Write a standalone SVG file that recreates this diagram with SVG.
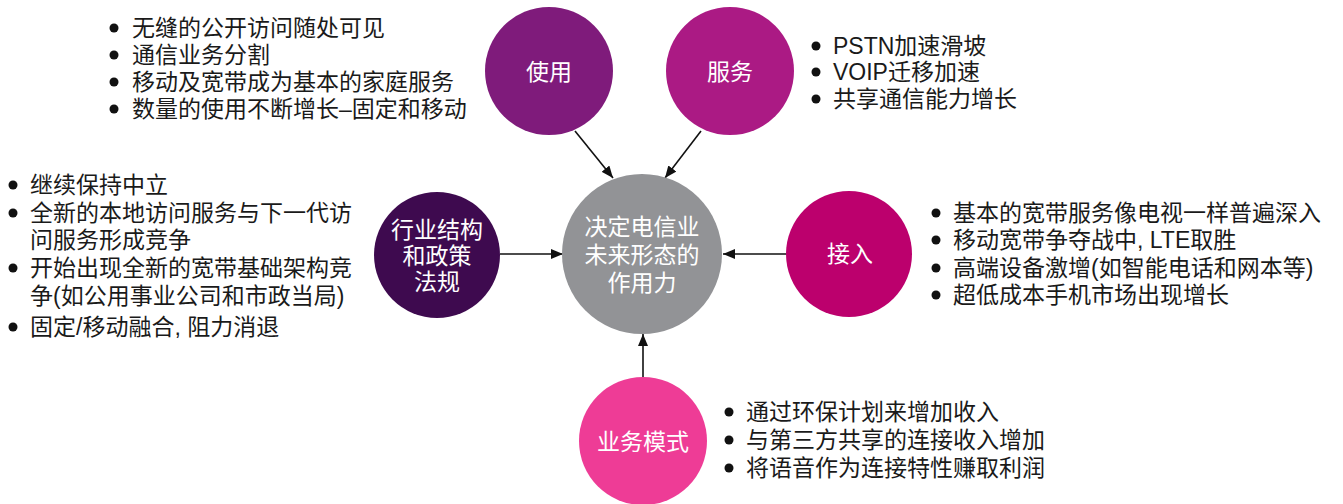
<svg xmlns="http://www.w3.org/2000/svg" width="1343" height="504" viewBox="0 0 1343 504">
<style>
text{font-family:"Liberation Sans","Noto Sans CJK SC",sans-serif;font-size:23px}
.b{fill:#1a1a1a}
.w{fill:#ffffff;text-anchor:middle}
.dot{fill:#111}
.c{stroke:#111;stroke-width:1.6;fill:none;marker-end:url(#ah)}
</style>
<defs>
<marker id="ah" viewBox="0 0 12 10" refX="12" refY="5" markerWidth="12" markerHeight="10" markerUnits="userSpaceOnUse" orient="auto">
<path d="M0,0 L12,5 L0,10 Z" fill="#111"/>
</marker>
</defs>
<rect width="1343" height="504" fill="#fff"/>
<g id="connectors">
<line class="c" x1="575" y1="131" x2="613" y2="178"/>
<line class="c" x1="701" y1="131" x2="665" y2="178"/>
<line class="c" x1="500" y1="254" x2="563" y2="254"/>
<line class="c" x1="786" y1="254" x2="723" y2="254"/>
<line class="c" x1="643" y1="377" x2="643" y2="334"/>
</g>
<g id="center">
<circle cx="642" cy="254" r="80" fill="#929396"/>
<text class="w" x="642" y="235">决定电信业</text>
<text class="w" x="642" y="263">未来形态的</text>
<text class="w" x="642" y="291">作用力</text>
</g>
<g id="usage">
<circle cx="549" cy="71" r="64" fill="#7F1B7B"/>
<text class="w" x="549" y="80">使用</text>
</g>
<g id="service">
<circle cx="730" cy="71" r="64" fill="#AB1A84"/>
<text class="w" x="730" y="80">服务</text>
</g>
<g id="policy">
<circle cx="437" cy="255" r="63" fill="#3E0A4F"/>
<text class="w" x="437" y="238">行业结构</text>
<text class="w" x="437" y="264">和政策</text>
<text class="w" x="437" y="290">法规</text>
</g>
<g id="access">
<circle cx="849" cy="254" r="63" fill="#BC006D"/>
<text class="w" x="850" y="262">接入</text>
</g>
<g id="business">
<circle cx="643" cy="441" r="64" fill="#EE3C96"/>
<text class="w" x="643" y="450">业务模式</text>
</g>
<g id="usage-list">
<circle class="dot" cx="114" cy="28" r="4.5"/><text class="b" x="132" y="36">无缝的公开访问随处可见</text>
<circle class="dot" cx="114" cy="55" r="4.5"/><text class="b" x="132" y="63">通信业务分割</text>
<circle class="dot" cx="114" cy="82" r="4.5"/><text class="b" x="132" y="90">移动及宽带成为基本的家庭服务</text>
<circle class="dot" cx="114" cy="109" r="4.5"/><text class="b" x="132" y="117">数量的使用不断增长–固定和移动</text>
</g>
<g id="service-list">
<circle class="dot" cx="816" cy="46" r="4.5"/><text class="b" x="833" y="54">PSTN加速滑坡</text>
<circle class="dot" cx="816" cy="72" r="4.5"/><text class="b" x="833" y="80">VOIP迁移加速</text>
<circle class="dot" cx="816" cy="99" r="4.5"/><text class="b" x="833" y="107">共享通信能力增长</text>
</g>
<g id="policy-list">
<circle class="dot" cx="13" cy="185" r="4.5"/><text class="b" x="30" y="193">继续保持中立</text>
<circle class="dot" cx="13" cy="213" r="4.5"/><text class="b" x="30" y="221">全新的本地访问服务与下一代访</text>
<text class="b" x="30" y="248">问服务形成竞争</text>
<circle class="dot" cx="13" cy="268" r="4.5"/><text class="b" x="30" y="276">开始出现全新的宽带基础架构竞</text>
<text class="b" x="30" y="304">争(如公用事业公司和市政当局)</text>
<circle class="dot" cx="13" cy="327" r="4.5"/><text class="b" x="30" y="335">固定/移动融合, 阻力消退</text>
</g>
<g id="access-list">
<circle class="dot" cx="936" cy="213" r="4.5"/><text class="b" x="953" y="221">基本的宽带服务像电视一样普遍深入</text>
<circle class="dot" cx="936" cy="240" r="4.5"/><text class="b" x="953" y="248">移动宽带争夺战中, LTE取胜</text>
<circle class="dot" cx="936" cy="268" r="4.5"/><text class="b" x="953" y="276">高端设备激增(如智能电话和网本等)</text>
<circle class="dot" cx="936" cy="295" r="4.5"/><text class="b" x="953" y="303">超低成本手机市场出现增长</text>
</g>
<g id="business-list">
<circle class="dot" cx="729" cy="412" r="4.5"/><text class="b" x="746" y="420">通过环保计划来增加收入</text>
<circle class="dot" cx="729" cy="440" r="4.5"/><text class="b" x="746" y="448">与第三方共享的连接收入增加</text>
<circle class="dot" cx="729" cy="468" r="4.5"/><text class="b" x="746" y="476">将语音作为连接特性赚取利润</text>
</g>
</svg>
